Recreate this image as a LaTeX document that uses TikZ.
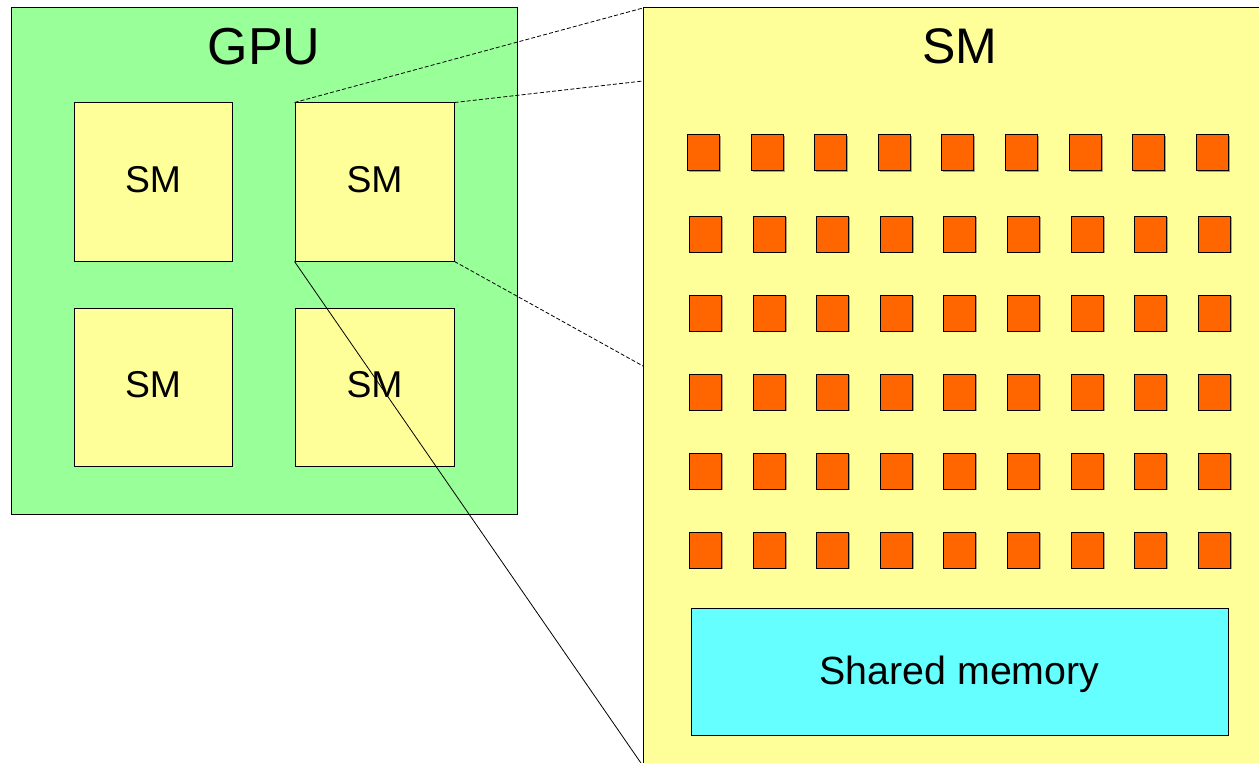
\documentclass[tikz,border=0pt]{standalone}
\usepackage{fontspec}
\setmainfont{Liberation Sans}
\usetikzlibrary{fit,shadows}

\definecolor{gpugreen}{HTML}{99FF99}
\definecolor{smyellow}{HTML}{FFFF99}
\definecolor{coreorange}{HTML}{FF6600}
\definecolor{memcyan}{HTML}{66FFFF}

\tikzset{
  shade box/.style={draw=black, line width=0.75pt, inner sep=0pt,
    drop shadow={shadow xshift=1.1pt, shadow yshift=-1.1pt, fill=black!70, opacity=0.5}},
  gpubox/.style={shade box, fill=gpugreen},
  smbox/.style={shade box, fill=smyellow},
  smlabel/.style={inner sep=0pt, anchor=center, font=\fontsize{28pt}{30pt}\selectfont},
  bigsm/.style={draw=black, line width=0.75pt, inner sep=0pt, fill=smyellow},
  corebox/.style={shade box, fill=coreorange, minimum width=24pt, minimum height=27pt},
  membox/.style={shade box, fill=memcyan},
  zoomline/.style={line width=0.6pt, dash pattern=on 3pt off 1.6pt},
  zoomsolid/.style={line width=0.6pt},
  title/.style={inner sep=0pt, anchor=center}
}

\begin{document}
\begin{tikzpicture}[x=0.75pt, y=-0.75pt]
  \useasboundingbox (0,0) rectangle (1259,763);
  \clip (0,0) rectangle (1259,763);
  \fill[white] (0,0) rectangle (1259,763);

  % GPU with its four multiprocessors
  \node[gpubox, fit={(11,8) (517,514)}] (gpu) {};
  \node[title, font=\fontsize{39pt}{41pt}\selectfont] (gputitle) at (264,47) {GPU};
  \node[smbox, fit={(74,103) (232,261)}] (sm1) {};
  \node[smbox, fit={(295,103) (454,261)}] (sm2) {};
  \node[smbox, fit={(74,308) (232,466)}] (sm3) {};
  \node[smbox, fit={(295,308) (454,466)}] (sm4) {};
  \node[smlabel] (sm1l) at (153,179.5) {SM};
  \node[smlabel] (sm2l) at (374.5,179.5) {SM};
  \node[smlabel] (sm3l) at (153,384.5) {SM};
  \node[smlabel] (sm4l) at (374.5,384.5) {SM};

  % ends of the zoom lines on the enlarged multiprocessor
  \coordinate (ztl) at (643,8);
  \coordinate (zt) at (643,81);
  \coordinate (zb) at (643,366);
  \coordinate (zbl) at (643,766);

  % zoom lines from the second multiprocessor
  \draw[zoomline] (sm2.north west) -- (ztl);
  \draw[zoomline] (sm2.north east) -- (zt);
  \draw[zoomline] (sm2.south east) -- (zb);
  \draw[zoomsolid] (sm2.south west) -- (zbl);

  % enlarged multiprocessor
  \node[bigsm, fit={(643,8) (1275,766)}] (big) {};
  \node[title, font=\fontsize{37.5pt}{40pt}\selectfont] (bigtitle) at (959.5,46) {SM};

  % cores: 9 columns, 6 rows
  \foreach \r/\yt in {1/135, 2/216, 3/295, 4/374, 5/453, 6/532} {
    \foreach \c in {0,...,8} {
      \ifnum\r=1
        \pgfmathsetmacro{\xl}{687.5+63.6*\c}
      \else
        \pgfmathsetmacro{\xl}{689.5+63.6*\c}
      \fi
      \node[corebox] (core-\r-\c) at (\xl+16,\yt+18) {};
    }
  }

  % shared memory
  \node[membox, fit={(691,608) (1228,735)}] (shmem) {};
  \node[inner sep=0pt, anchor=base, font=\fontsize{29.5pt}{31pt}\selectfont] (shmemlabel) at (959.5,684.5) {Shared memory};
\end{tikzpicture}
\end{document}
